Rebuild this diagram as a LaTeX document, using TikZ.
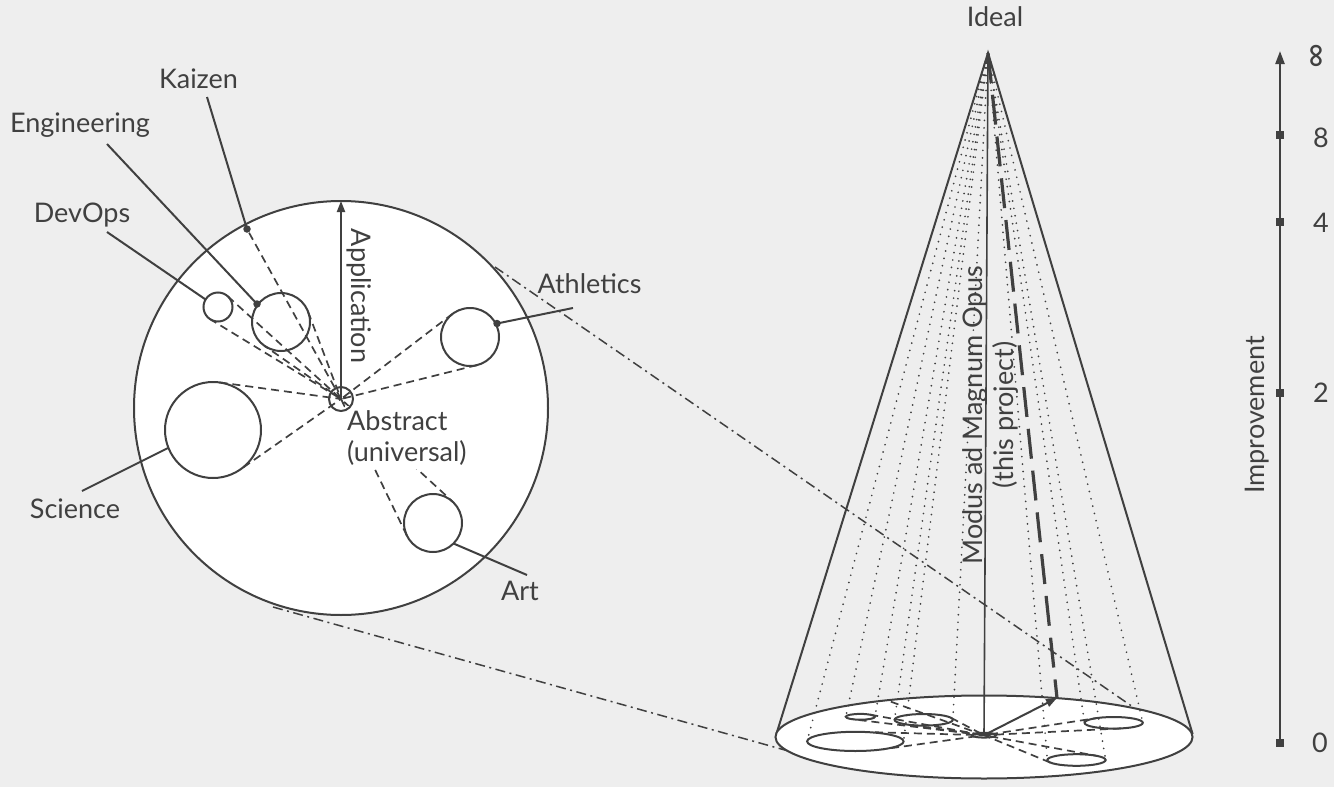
\documentclass[tikz,border=0pt]{standalone}
\usepackage{fontspec}
\setmainfont{Lato}
\usetikzlibrary{arrows.meta}
\definecolor{ink}{RGB}{64,64,64}
\definecolor{bgc}{RGB}{238,238,238}
\newcommand\lblfont{\fontsize{27}{31}\selectfont}
\tikzset{
  edgeline/.style={draw=ink, line width=2pt},
  dashline/.style={draw=ink, line width=1.7pt, dash pattern=on 8pt off 5pt},
  chainline/.style={draw=ink, line width=1.5pt, dash pattern=on 10pt off 4.5pt on 2pt off 4.5pt},
  dotline/.style={draw=ink, line width=1.9pt, line cap=round, dash pattern=on 0pt off 7.5pt},
  bigdash/.style={draw=ink, line width=3.2pt, dash pattern=on 30pt off 12pt},
  lbl/.style={text=ink, font=\lblfont, inner sep=0pt},
  dotmark/.style={circle, fill=ink, inner sep=0pt, minimum size=7.5pt},
  axmark/.style={rectangle, fill=ink, inner sep=0pt, minimum size=8pt},
  arr/.style={-{Triangle[length=11pt,width=8pt]}},
}
% disk content in local coordinates (y down, centre of disk at origin)
\newcommand\diskparts[1]{%
  \coordinate (#1hub) at (0,-9);
  \coordinate (#1dev) at (-123,-101);
  \coordinate (#1eng) at (-60,-86);
  \coordinate (#1ath) at (129,-71);
  \coordinate (#1sci) at (-128,22);
  \coordinate (#1art) at (92,115);
  \coordinate (#1kz) at (-94,-179);
  \draw[dashline] (-113.2,-111.7) -- (#1hub) -- (-130.5,-88.6);
  \draw[dashline] (-32.9,-96.2) -- (#1hub) -- (-76.6,-62.2);
  \draw[dashline] (136.1,-42.9) -- (#1hub) -- (111.4,-94.1);
  \draw[dashline] (-121.5,-25.6) -- (#1hub) -- (-100.4,61.3);
  \draw[dashline] (65.9,127.7) -- (#1hub) -- (111.7,93.7);
  \draw[dashline] (#1hub) -- (#1kz);
  \draw[edgeline] (#1dev) circle[radius=14.5];
  \draw[edgeline] (#1eng) circle[radius=29];
  \draw[edgeline] (#1ath) circle[radius=29];
  \draw[edgeline] (#1sci) circle[radius=48];
  \draw[edgeline] (#1art) circle[radius=29];
}
\begin{document}
\begin{tikzpicture}[x=1pt,y=-1pt]
\useasboundingbox (0,0) rectangle (1334,787);
\fill[bgc] (0,0) rectangle (1334,787);

% projection lines
\coordinate (pa1) at (495,267); \coordinate (pb1) at (1133,707);
\coordinate (pa2) at (273,607); \coordinate (pb2) at (792,752);
\draw[chainline] (pa1) -- (pb1);
\draw[chainline] (pa2) -- (pb2);

% ---------------- left disk ----------------
\begin{scope}[shift={(341,408)}]
  \draw[edgeline, fill=white] (0,0) circle[radius=207];
  \diskparts{l}
  \coordinate (lapp) at (0,-207);
  \coordinate (lengdot) at (-84,-104);
  \coordinate (lathdot) at (156,-84.5);
  \coordinate (ldevpt) at (-135.4,-108.5);
  \coordinate (lscipt) at (-173,40);
  \coordinate (lartpt) at (112.5,135.5);
\end{scope}
\draw[edgeline, arr] (lhub) -- (lapp);
\node[lbl, rotate=-90] (applbl) at (359.5,296) {Application};
\node[lbl, fill=white, align=left, anchor=north west, inner xsep=2pt, inner ysep=4pt] (abslbl) at (345,406) {Abstract\\(universal)};
\draw[edgeline] (lhub) circle[radius=12];

% labels of the left disk
\node[lbl, anchor=base] (kzlbl) at (198.5,88) {Kaizen};
\node[lbl, anchor=base] (englbl) at (80,132) {Engineering};
\node[lbl, anchor=base] (devlbl) at (82,222) {DevOps};
\node[lbl, anchor=base] (athlbl) at (589.5,293) {Athletics};
\node[lbl, anchor=base] (scilbl) at (75,518) {Science};
\node[lbl, anchor=base] (artlbl) at (520,600) {Art};
\coordinate (kzend) at (207,97);
\coordinate (engend) at (107,144);
\coordinate (devend) at (107,232);
\coordinate (athend) at (573,308);
\coordinate (sciend) at (82,491);
\coordinate (artend) at (527,575);
\draw[edgeline] (kzend) -- (lkz);
\draw[edgeline] (engend) -- (lengdot);
\draw[edgeline] (devend) -- (ldevpt);
\draw[edgeline] (athend) -- (lathdot);
\draw[edgeline] (sciend) -- (lscipt);
\draw[edgeline] (artend) -- (lartpt);
\node[dotmark] (kzdot) at (lkz) {};
\node[dotmark] (engdot) at (lengdot) {};
\node[dotmark] (athdot) at (lathdot) {};

% ---------------- cone ----------------
\coordinate (apex) at (988,53);
\coordinate (cl) at (776.4,733.9);
\coordinate (cr) at (1192.6,734);
\draw[edgeline] (cl) -- (apex) -- (cr);
\begin{scope}[shift={(984,737)}, xscale=1.005, yscale=0.2]
  \draw[edgeline, fill=white] (0,0) circle[radius=207.5];
  \coordinate (bsciL) at (-176,22);  \coordinate (bsciR) at (-80,22);
  \coordinate (bdevL) at (-137.5,-101); \coordinate (bdevR) at (-108.5,-101);
  \coordinate (bengL) at (-89,-86);  \coordinate (bengR) at (-31,-86);
  \coordinate (bathL) at (100,-71);  \coordinate (bathR) at (158,-71);
  \coordinate (bartL) at (63,115);   \coordinate (bartR) at (121,115);
  \foreach \p in {bsciL,bsciR,bdevL,bdevR,bengL,bengR,bathL,bathR,bartL,bartR}
    \draw[dotline] (apex) -- (\p);
  \diskparts{b}
  \draw[edgeline] (bhub) circle[radius=12];
\end{scope}
\coordinate (rim) at (1057,698);
\draw[edgeline, line width=1.6pt, arr] (bhub) -- (apex);
\draw[bigdash] (apex) -- (rim);
\draw[edgeline, arr] (bhub) -- (rim);
\node[lbl, rotate=90, align=center] (modlbl) at (991,415) {Modus ad Magnum Opus\\(this project)};
\node[lbl, anchor=base] (ideallbl) at (995,26) {Ideal};

% ---------------- axis ----------------
\coordinate (a0) at (1280,743);
\coordinate (axtop) at (1280,51);
\draw[draw=ink, line width=2.3pt, -{Triangle[length=13pt,width=9pt]}] (a0) -- (axtop);
\node[axmark] (m0) at (1280,743) {};
\node[axmark] (m2) at (1280,393) {};
\node[axmark] (m4) at (1280,222) {};
\node[axmark] (m8) at (1280,135) {};
\node[lbl] (v0) at (1320,743) {0};
\node[lbl] (v2) at (1321,393) {2};
\node[lbl] (v4) at (1321,223) {4};
\node[lbl] (v8) at (1321,138) {8};
\node[lbl, rotate=90, font=\fontsize{34}{34}\selectfont] (vinf) at (1319,56) {∞};
\node[lbl, rotate=90] (implbl) at (1257,415) {Improvement};
\end{tikzpicture}
\end{document}
